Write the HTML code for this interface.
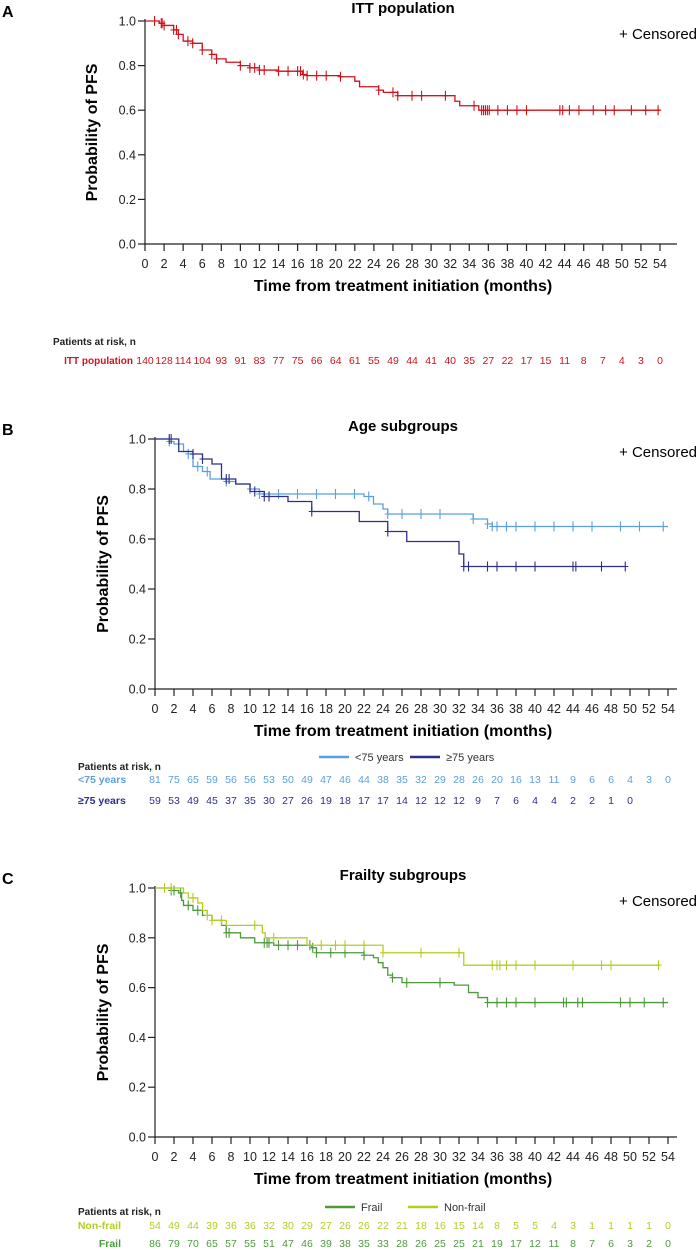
<!DOCTYPE html>
<html><head><meta charset="utf-8">
<style>
body{margin:0;background:#fff;}
svg{display:block;font-family:"Liberation Sans",Arial,sans-serif;}
</style></head>
<body>
<svg id="c" width="699" height="1250" viewBox="0 0 699 1250"></svg>
<script>
// ---- Data ----
const xTicks = [0,2,4,6,8,10,12,14,16,18,20,22,24,26,28,30,32,34,36,38,40,42,44,46,48,50,52,54];
const yTicks = [0,0.2,0.4,0.6,0.8,1.0];

const ittTimes = [0,1.5,2,3,3.5,4,5,6,7,7.5,8.5,10,11,12,14,16.5,17,20.5,22,22.5,24.5,25,26.5,32.5,33,35,54];
const ittSurv  = [1,0.99,0.98,0.96,0.94,0.91,0.90,0.87,0.85,0.83,0.815,0.80,0.79,0.78,0.775,0.76,0.755,0.75,0.73,0.705,0.69,0.68,0.665,0.64,0.62,0.60,0.60];
const ittCens  = [1,1.7,1.8,2,3,3.3,3.5,4.5,5,6,7,7.5,10,11,11.5,12,12.5,14,15,16,16.3,16.6,17,18,19,20.5,24.5,26,26.5,28,29,31.5,34.5,35.3,35.5,35.7,35.9,36.1,37,38,39,40,43.5,43.8,44.5,45.5,47,48.3,49.2,51,52.5,53.8];
const ittRisk  = [140,128,114,104,93,91,83,77,75,66,64,61,55,49,44,41,40,35,27,22,17,15,11,8,7,4,3,0];

const youngTimes = [0,1.5,2,3,3.5,4,5,5.8,7.5,8.5,10,11,21,22,23,24,24.5,33.5,35,35.5,54];
const youngSurv  = [1,0.99,0.98,0.95,0.94,0.89,0.87,0.84,0.83,0.82,0.80,0.78,0.78,0.77,0.74,0.72,0.70,0.68,0.66,0.65,0.65];
const youngCens  = [1.5,3.5,4.5,5.5,7.5,10,11,13,15,17,19,21,22.5,24.5,26,28,30,33.5,35,35.5,36,37,38,40,42,44,46,49,51,53.5];
const youngRisk  = [81,75,65,59,56,56,53,50,49,47,46,44,38,35,32,29,28,26,20,16,13,11,9,6,6,4,3,0];

const oldTimes = [0,2.5,4,5,6,7,8.5,10,11.5,14,16.5,21.5,24.5,26.5,32,32.5,49.5];
const oldSurv  = [1,0.95,0.94,0.92,0.90,0.84,0.82,0.79,0.77,0.75,0.71,0.67,0.63,0.59,0.54,0.49,0.49];
const oldCens  = [1.5,1.7,4,5,7.5,7.8,10.5,11.5,12,16.5,24.5,32.5,33,35,36,38,40,44,44.3,47,49.5];
const oldRisk  = [59,53,49,45,37,35,30,27,26,19,18,17,17,14,12,12,12,9,7,6,4,4,2,2,1,0];

const frailTimes = [0,1.7,2.5,2.8,3,4,5,6,7,7.5,9,10.5,12.5,16.5,17,22,23,23.5,24,24.5,25,26,31.5,33,34,35,54];
const frailSurv  = [1,0.99,0.98,0.95,0.93,0.91,0.89,0.87,0.85,0.82,0.80,0.78,0.77,0.76,0.74,0.73,0.72,0.70,0.68,0.65,0.64,0.62,0.61,0.58,0.56,0.54,0.54];
const frailCens  = [1.7,2,2.7,3.5,4.5,7.5,7.8,11.5,11.8,12,13,14,15,16.3,16.6,17,18.5,20,22,25,26.5,30,35,36,37,38,40,43,43.3,44.5,45,49,50,51.5,53.5];
const frailRisk  = [86,79,70,65,57,55,51,47,46,39,38,35,33,28,26,25,25,21,19,17,12,11,8,7,6,3,2,0];

const nonfrailTimes = [0,3,3.5,4.5,5,5.5,6,7.5,11.3,11.6,16,24,32.5,53];
const nonfrailSurv  = [1,0.98,0.96,0.94,0.91,0.89,0.87,0.85,0.82,0.80,0.77,0.74,0.69,0.69];
const nonfrailCens  = [1,1.7,4,5.5,6,7,10.5,12.5,17.5,19,20,22,24,28,32,35.5,36,36.3,37,38,40,44,47,48,53];
const nonfrailRisk  = [54,49,44,39,36,36,32,30,29,27,26,26,22,21,18,16,15,14,8,5,5,4,3,1,1,1,1,0];

const NS="http://www.w3.org/2000/svg";
const svg=document.getElementById('c');
function mk(tag,attrs,parent,text){
  const e=document.createElementNS(NS,tag);
  for(const k in attrs) e.setAttribute(k,attrs[k]);
  if(text!==undefined) e.textContent=text;
  (parent||svg).appendChild(e);
  return e;
}
function panel(p){
  const g=mk('g',{});
  
  
  const sx=t=>p.x0+(p.x1-p.x0)*t/54;
  const sy=v=>p.y0-(p.y0-p.y1)*v;
  const L=mk('text',{x:2,y:p.y1-4,'font-size':16,'font-weight':'bold',fill:'#000'},g,p.letter);
  
  
  const T=mk('text',{x:403,y:p.y1-8,'font-size':15,'font-weight':'bold','text-anchor':'middle',fill:'#000'},g,p.title);
  
  
  const C=mk('text',{x:697,y:p.y1+18,'font-size':15,'text-anchor':'end',fill:'#000'},g,'+ Censored');
  
  
  const ax=mk('path',{d:`M${p.x0} ${p.y1-2}V${p.y0}H677`,stroke:'#222','stroke-width':1.2,fill:'none'},g);
  
  
  xTicks.forEach(t=>{
    mk('line',{x1:sx(t),x2:sx(t),y1:p.y0,y2:p.y0+7,stroke:'#222','stroke-width':1.2},g);
    const tl=mk('text',{x:sx(t),y:p.y0+24,'font-size':12.5,'text-anchor':'middle',fill:'#222'},g,String(t));
    
    
  });
  yTicks.forEach(v=>{
    mk('line',{x1:p.x0-7,x2:p.x0,y1:sy(v),y2:sy(v),stroke:'#222','stroke-width':1.2},g);
    const tl=mk('text',{x:p.x0-9,y:sy(v)+4.5,'font-size':12.5,'text-anchor':'end',fill:'#222'},g,v.toFixed(1));
    
    
  });
  const yt=mk('text',{x:0,y:0,'font-size':16,'font-weight':'bold','text-anchor':'middle',fill:'#000',transform:`translate(${p.ytx},${(p.y0+p.y1)/2}) rotate(-90)`},g,'Probability of PFS');
  
  
  const xt=mk('text',{x:403,y:p.y0+47,'font-size':16,'font-weight':'bold','text-anchor':'middle',fill:'#000'},g,'Time from treatment initiation (months)');
  
  
  p.series.forEach(s=>{
    let d=`M${sx(s.t[0])} ${sy(s.s[0])}`;
    for(let i=1;i<s.t.length;i++){ d+=`H${sx(s.t[i])}V${sy(s.s[i])}`; }
    const path=mk('path',{d:d,stroke:s.color,'stroke-width':1.3,fill:'none'},g);
    
    
    s.c.forEach(t=>{
      let v=s.s[0];
      for(let i=0;i<s.t.length;i++){ if(s.t[i]<=t) v=s.s[i]; }
      const m=mk('path',{d:`M${sx(t)} ${sy(v)-5}v10M${sx(t)-3} ${sy(v)}h6`,stroke:s.color,'stroke-width':1.1},g);
      
      
    });
  });
  if(p.legend){
    p.legend.forEach(l=>{
      mk('line',{x1:l.x,x2:l.x+30,y1:p.legY,y2:p.legY,stroke:l.color,'stroke-width':2.5},g);
      const lt=mk('text',{x:l.x+36,y:p.legY+4,'font-size':11,fill:'#333'},g,l.label);
      
      
    });
  }
  const pr=mk('text',{x:p.riskX,y:p.riskTitleY,'font-size':10,'font-weight':'bold',fill:'#222'},g,'Patients at risk, n');
  
  
  p.rows.forEach(r=>{
    const lb=mk('text',{x:r.lx,y:r.y,'font-size':r.fs||10.5,'font-weight':'bold','text-anchor':r.anchor,fill:r.color},g,r.label);
    
    
    r.vals.forEach((n,i)=>{
      const tv=mk('text',{x:sx(xTicks[i]),y:r.y,'font-size':10.5,'text-anchor':'middle',fill:r.color},g,String(n));
      
      
    });
  });
}
const RED='#d0121b', LB='#5aa0e0', DB='#2e2f8a', GR='#4c9a3c', YG='#b7cc22';
panel({name:'panel-a-itt',letter:'A',title:'ITT population',x0:145,x1:660,y1:21,y0:244,ytx:97,
  series:[{key:'itt',t:ittTimes,s:ittSurv,c:ittCens,color:RED}],
  riskX:53,riskTitleY:345,
  rows:[{label:'ITT population',lx:133,anchor:'end',y:364,color:RED,vals:ittRisk,fs:10}]});
panel({name:'panel-b-age',letter:'B',title:'Age subgroups',x0:155,x1:668,y1:439,y0:689,ytx:108,
  series:[{key:'under-75',t:youngTimes,s:youngSurv,c:youngCens,color:LB},{key:'over-75',t:oldTimes,s:oldSurv,c:oldCens,color:DB}],
  legY:757,legend:[{x:319,color:LB,label:'<75 years'},{x:410,color:DB,label:'≥75 years'}],
  riskX:78,riskTitleY:770,
  rows:[{label:'<75 years',lx:78,anchor:'start',y:783,color:LB,vals:youngRisk},{label:'≥75 years',lx:78,anchor:'start',y:804,color:DB,vals:oldRisk}]});
panel({name:'panel-c-frailty',letter:'C',title:'Frailty subgroups',x0:155,x1:668,y1:888,y0:1137,ytx:108,
  series:[{key:'frail',t:frailTimes,s:frailSurv,c:frailCens,color:GR},{key:'non-frail',t:nonfrailTimes,s:nonfrailSurv,c:nonfrailCens,color:YG}],
  legY:1207,legend:[{x:325,color:GR,label:'Frail'},{x:408,color:YG,label:'Non-frail'}],
  riskX:78,riskTitleY:1215,
  rows:[{label:'Non-frail',lx:121,anchor:'end',y:1229,color:YG,vals:nonfrailRisk},{label:'Frail',lx:121,anchor:'end',y:1247,color:GR,vals:frailRisk}]});
</script>
</body></html>
